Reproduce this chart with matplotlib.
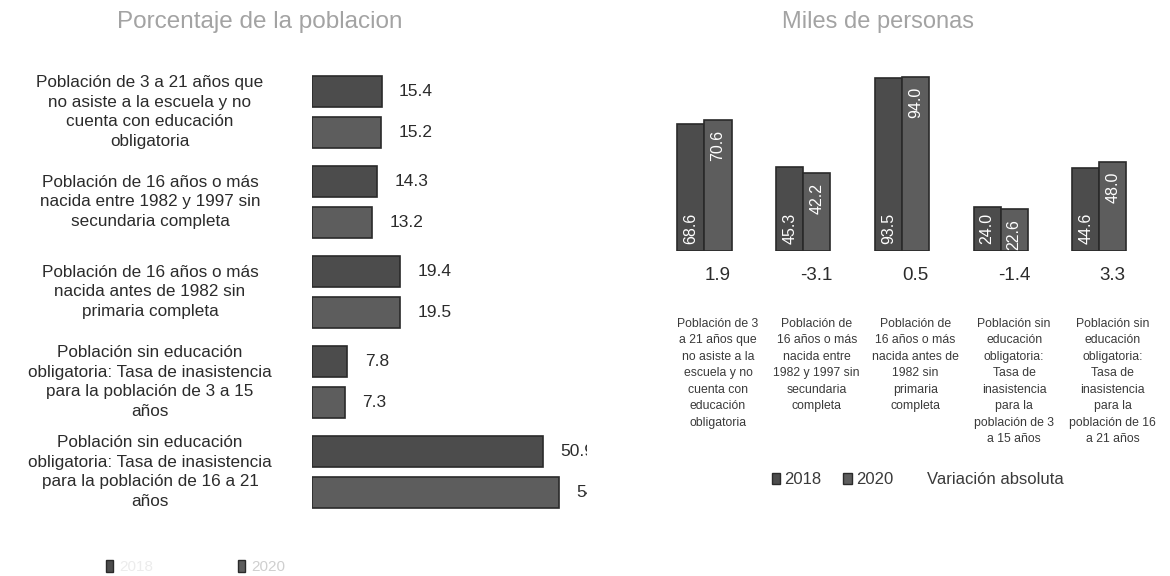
import matplotlib
matplotlib.use("Agg")
import matplotlib.pyplot as plt
import matplotlib.transforms as mtransforms
from matplotlib.patches import Patch
import numpy as np

plt.rcParams['font.family'] = ['Liberation Sans', 'DejaVu Sans']

# ---------------- data ----------------
left_categories = [
    "Población de 3 a 21 años que\nno asiste a la escuela y no\ncuenta con educación\nobligatoria",
    "Población de 16 años o más\nnacida entre 1982 y 1997 sin\nsecundaria completa",
    "Población de 16 años o más\nnacida antes de 1982 sin\nprimaria completa",
    "Población sin educación\nobligatoria: Tasa de inasistencia\npara la población de 3 a 15\naños",
    "Población sin educación\nobligatoria: Tasa de inasistencia\npara la población de 16 a 21\naños",
]
left_2018 = [15.4, 14.3, 19.4, 7.8, 50.9]
left_2020 = [15.2, 13.2, 19.5, 7.3, 54.5]

right_categories = [
    "Población de 3\na 21 años que\nno asiste a la\nescuela y no\ncuenta con\neducación\nobligatoria",
    "Población de\n16 años o más\nnacida entre\n1982 y 1997 sin\nsecundaria\ncompleta",
    "Población de\n16 años o más\nnacida antes de\n1982 sin\nprimaria\ncompleta",
    "Población sin\neducación\nobligatoria:\nTasa de\ninasistencia\npara la\npoblación de 3\na 15 años",
    "Población sin\neducación\nobligatoria:\nTasa de\ninasistencia\npara la\npoblación de 16\na 21 años",
]
right_2018 = [68.6, 45.3, 93.5, 24.0, 44.6]
right_2020 = [70.6, 42.2, 94.0, 22.6, 48.0]
right_variation = [1.9, -3.1, 0.5, -1.4, 3.3]

series_labels = ["2018", "2020", "Variación absoluta"]
left_title = "Porcentaje de la poblacion"
right_title = "Miles de personas"

# ---------------- style ----------------
W, H = 1170, 576
c2018 = "#4c4c4c"
c2020 = "#5d5d5d"
edge = "#2a2a2a"
title_color = "#a3a3a3"

fig = plt.figure(figsize=(W / 100, H / 100), dpi=100)
fig.patch.set_facecolor("white")

def fx(px):
    return px / W

def fy(py):
    return 1 - py / H

# ---------------- left chart ----------------
axl = fig.add_axes([fx(312), fy(526), fx(587 - 312), (526 - 58) / H])
yl = np.arange(len(left_categories))
bh = 0.344
off = 0.225
axl.barh(yl - off, left_2018, height=bh, color=c2018, edgecolor=edge, linewidth=1.2)
axl.barh(yl + off, left_2020, height=bh, color=c2020, edgecolor=edge, linewidth=1.2)
axl.set_xlim(0, (587 - 312) / 4.53)
axl.set_ylim(4.6, -0.6)
axl.axis("off")
for i in range(len(yl)):
    for v, yy in ((left_2018[i], yl[i] - off), (left_2020[i], yl[i] + off)):
        t = axl.annotate(f"{v:.1f}", (v, yy), xytext=(12.5, 0), textcoords="offset points",
                         ha="left", va="center", fontsize=12.5, color="#2b2b2b", annotation_clip=False)
        t.set_clip_on(True)
        t.set_clip_box(axl.bbox)
trl = mtransforms.blended_transform_factory(fig.transFigure, axl.transData)
for i, lab in enumerate(left_categories):
    axl.text(fx(150), yl[i], lab, transform=trl, ha="center", va="center",
             fontsize=12.3, color="#2b2b2b", linespacing=1.38, clip_on=False)
fig.text(fx(260), fy(22), left_title, ha="center", va="center", fontsize=17.5, color=title_color)

legl = fig.legend(handles=[Patch(facecolor=c2018, edgecolor=edge), Patch(facecolor=c2020, edgecolor=edge)],
                  labels=series_labels[:2], loc="center left", bbox_to_anchor=(fx(92), fy(567)),
                  ncol=2, frameon=False, fontsize=11, handlelength=0.5, handleheight=0.8,
                  handletextpad=0.4, columnspacing=5.5)
legl.get_texts()[0].set_color("#ececec")
legl.get_texts()[1].set_color("#cfcfcf")

# ---------------- right chart ----------------
xlo, xhi = -0.7, 4.45
spacing = 98.7
axr = fig.add_axes([fx(718 + xlo * spacing), fy(251), fx((xhi - xlo) * spacing), 185 / H])
xr = np.arange(len(right_categories))
bw = 0.274
axr.bar(xr - bw, right_2018, width=bw, color=c2018, edgecolor=edge, linewidth=1.2)
axr.bar(xr, right_2020, width=bw, color=c2020, edgecolor=edge, linewidth=1.2)
axr.set_xlim(xlo, xhi)
axr.set_ylim(0, 100)
for s in axr.spines.values():
    s.set_visible(False)
axr.set_yticks([])
axr.set_xticks(xr)
axr.set_xticklabels(right_categories, fontsize=8.8, color="#3a3a3a", linespacing=1.5)
axr.tick_params(axis="x", length=0, pad=48)
for i in range(len(xr)):
    axr.annotate(f"{right_2018[i]:.1f}", (xr[i] - bw, 0), xytext=(0, 5), textcoords="offset points",
                 rotation=90, ha="center", va="bottom", fontsize=11.5, color="white")
    axr.annotate(f"{right_2020[i]:.1f}", (xr[i], right_2020[i]), xytext=(0, -7), textcoords="offset points",
                 rotation=90, ha="center", va="top", fontsize=11.5, color="white")
    axr.annotate(f"{right_variation[i]:.1f}", (xr[i], 0), xytext=(0, -17.5), textcoords="offset points",
                 ha="center", va="center", fontsize=13.5, color="#2b2b2b", annotation_clip=False)
fig.text(fx(878), fy(22), right_title, ha="center", va="center", fontsize=17, color=title_color)

legr = fig.legend(handles=[Patch(facecolor=c2018, edgecolor=edge), Patch(facecolor=c2020, edgecolor=edge),
                           Patch(facecolor="none", edgecolor="none")],
                  labels=series_labels, loc="center", bbox_to_anchor=(fx(918), fy(480)),
                  ncol=3, frameon=False, fontsize=12, handlelength=0.5, handleheight=0.6,
                  handletextpad=0.25, columnspacing=1.3)
for t in legr.get_texts():
    t.set_color("#3a3a3a")

fig.savefig("out.png", dpi=100)
